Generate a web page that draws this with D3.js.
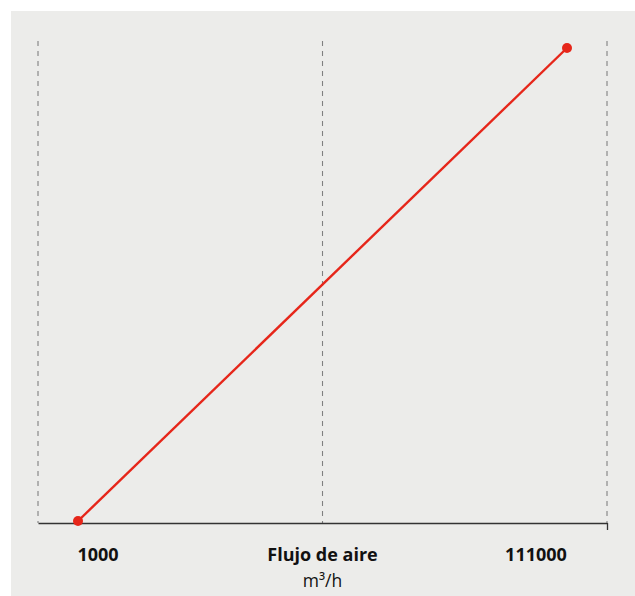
<!DOCTYPE html>
<html>
<head>
<meta charset="utf-8">
<script src="https://cdn.jsdelivr.net/npm/d3@7"></script>
<style>
  body { margin: 0; background: #fff; }
  svg { display: block; }
  text { font-family: "Open Sans", "Noto Sans", sans-serif; fill: #111; }
</style>
</head>
<body>
<svg class="grafico"></svg>
<script>
const W = 635, H = 596;

// dados
const flujo = [1000, 111000];
const valor = [0, 100];
const xDominio = [-8000, 120000];
const xGuias = [-8000, 56000, 120000];
const etiquetaEje = "Flujo de aire";
const unidad = "m³/h";

const puntos = flujo.map((f, i) => ({ x: f, y: valor[i] }));

const svg = d3.select(".grafico").attr("width", W).attr("height", H);

svg.append("rect")
   .attr("x", 11).attr("y", 11)
   .attr("width", W - 11).attr("height", H - 11)
   .attr("fill", "#ececea");

const x = d3.scaleLinear().domain(xDominio).range([38, 607]);
const y = d3.scaleLinear().domain([0, 100]).range([521, 48]);
const yEje = 523;

// lineas guia punteadas
svg.selectAll(".guia")
   .data(xGuias)
   .enter()
   .append("line")
   .attr("x1", d => x(d)).attr("x2", d => x(d))
   .attr("y1", 41).attr("y2", yEje)
   .attr("stroke", "#808080")
   .attr("stroke-width", 1.1)
   .attr("stroke-dasharray", "5 5");

// eje x
const eje = svg.append("g")
   .attr("transform", `translate(0,${yEje})`)
   .call(d3.axisBottom(x).tickValues([xDominio[1]]).tickSize(7).tickSizeOuter(0).tickFormat(""));
eje.select(".domain").attr("stroke", "#333").attr("stroke-width", 1.3);
eje.selectAll(".tick line").attr("stroke", "#333").attr("stroke-width", 1.3);

// linea
const linea = d3.line().x(d => x(d.x)).y(d => y(d.y));
svg.append("path")
   .datum(puntos)
   .attr("d", linea)
   .attr("fill", "none")
   .attr("stroke", "#e6261a")
   .attr("stroke-width", 2.4);

svg.selectAll(".punto")
   .data(puntos)
   .enter()
   .append("circle")
   .attr("cx", d => x(d.x))
   .attr("cy", d => y(d.y))
   .attr("r", 5)
   .attr("fill", "#e6261a");

// etiquetas
svg.append("text").attr("x", 98).attr("y", 561)
   .attr("text-anchor", "middle").attr("font-size", 18).attr("font-weight", "bold")
   .text(d3.format("d")(flujo[0]));
svg.append("text").attr("x", 536).attr("y", 561)
   .attr("text-anchor", "middle").attr("font-size", 18).attr("font-weight", "bold")
   .text(d3.format("d")(flujo[1]));
svg.append("text").attr("x", x(xGuias[1])).attr("y", 561)
   .attr("text-anchor", "middle").attr("font-size", 18).attr("font-weight", "bold")
   .text(etiquetaEje);
svg.append("text").attr("x", x(xGuias[1])).attr("y", 587)
   .attr("text-anchor", "middle").attr("font-size", 17.5)
   .text(unidad);
</script>
</body>
</html>
